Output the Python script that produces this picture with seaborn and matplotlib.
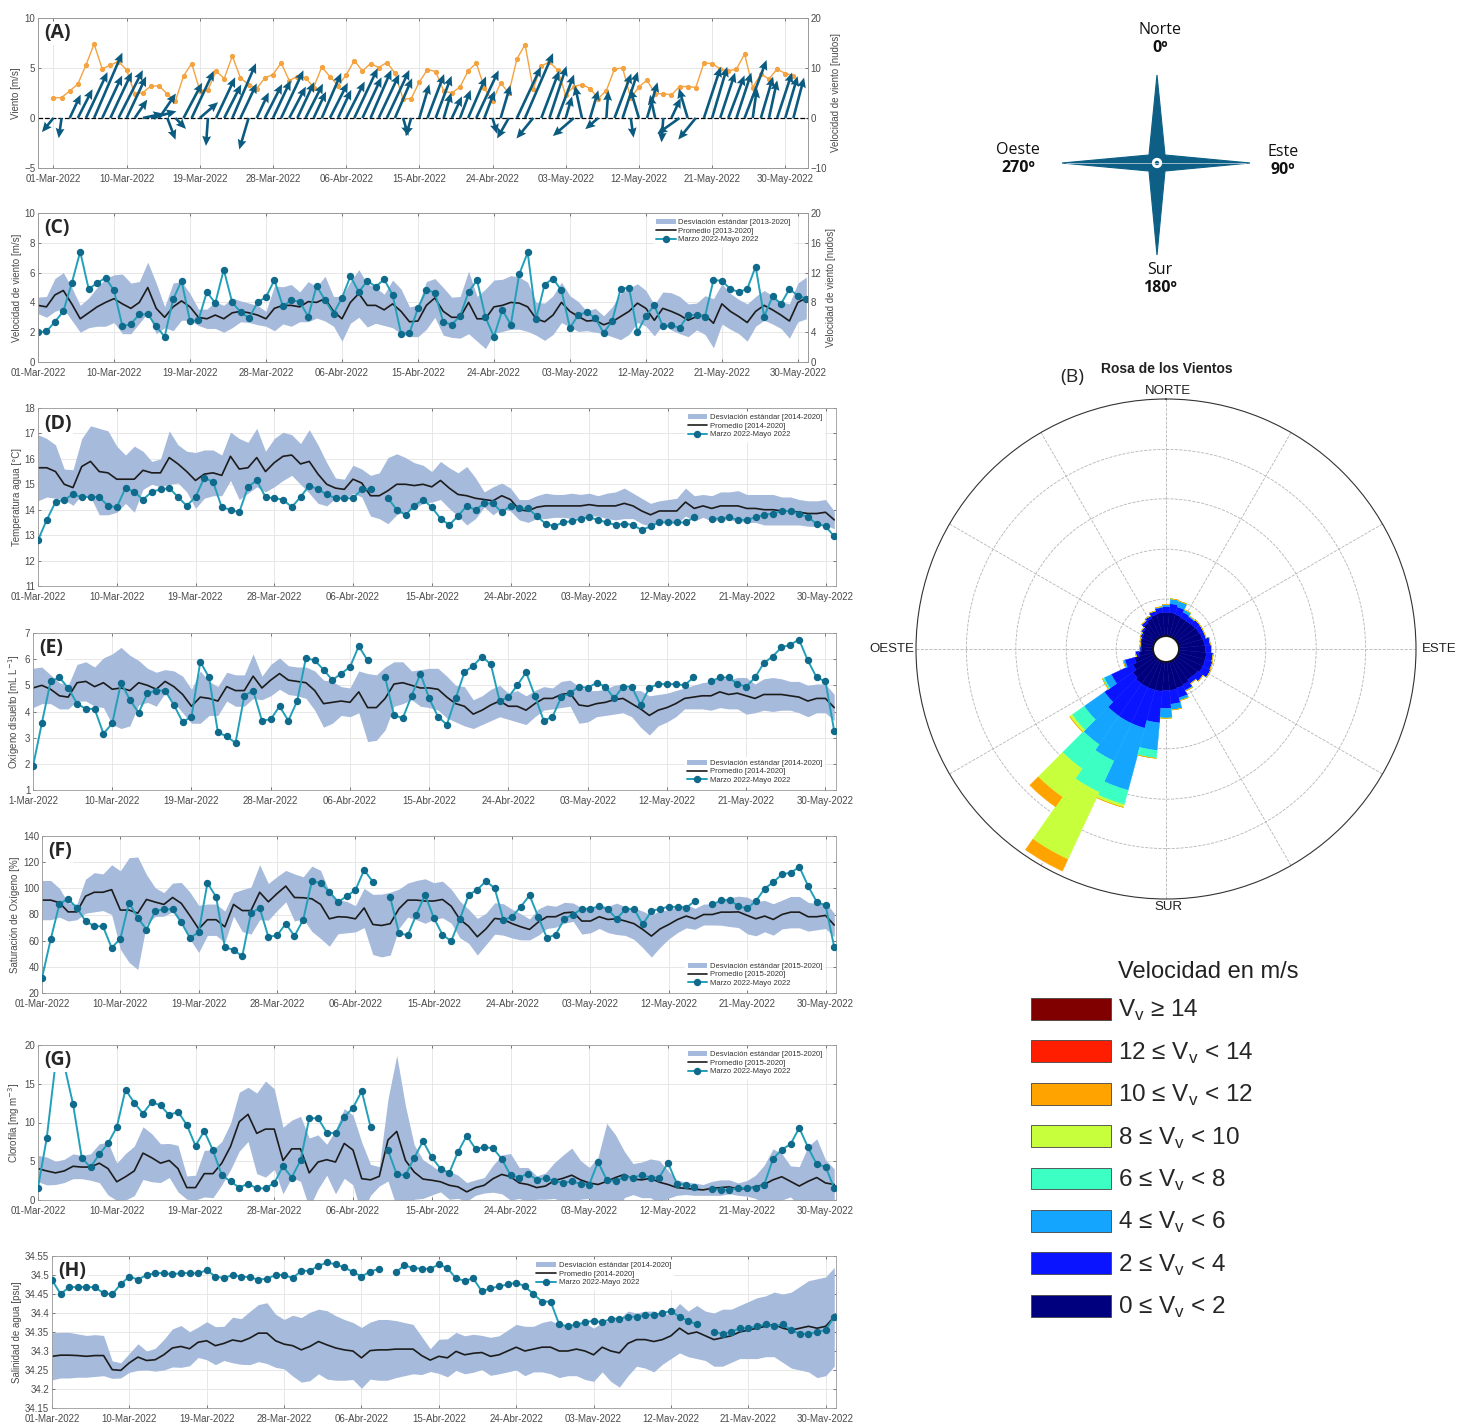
import numpy as np
import pandas as pd
import matplotlib
matplotlib.use("Agg")
import matplotlib.pyplot as plt
import matplotlib.dates as mdates
from matplotlib.patches import Patch, Polygon, Circle
from matplotlib.lines import Line2D
import seaborn as sns

nan = np.nan

# --- DATA ---
DATES = pd.date_range("2022-03-01", "2022-05-31", freq="D")
TICK_DATES = pd.date_range("2022-03-01", "2022-05-30", freq="9D")
TICK_LABELS = ["01-Mar-2022", "10-Mar-2022", "19-Mar-2022", "28-Mar-2022", "06-Abr-2022",
               "15-Abr-2022", "24-Abr-2022", "03-May-2022", "12-May-2022", "21-May-2022",
               "30-May-2022"]

# wind speed (m/s), used in (A) and (C)
WIND_SPEED = [2.0, 2.05, 2.7, 3.4, 5.3, 7.4, 4.9, 5.3, 5.65, 4.8,
              2.4, 2.55, 3.2, 3.2, 2.4, 1.7, 4.2, 5.45, 2.75, 2.8,
              4.7, 3.95, 6.2, 4.0, 3.35, 2.95, 4.0, 4.35, 5.5, 3.75,
              4.15, 4.05, 3.05, 5.1, 4.15, 3.25, 4.3, 5.75, 4.7, 5.45,
              5.05, 5.55, 4.5, 1.9, 1.95, 3.6, 4.85, 4.65, 2.7, 2.5,
              3.1, 4.7, 5.5, 3.0, 1.7, 3.5, 2.5, 5.9, 7.35, 2.9,
              5.2, 5.6, 4.8, 2.3, 3.15, 3.35, 2.95, 1.95, 2.75, 4.9,
              5.0, 2.0, 3.1, 3.8, 2.4, 2.45, 2.3, 3.15, 3.15, 3.05,
              5.5, 5.45, 4.9, 4.7, 4.9, 6.4, 3.05, 4.4, 3.9, 4.9,
              4.45, 4.25]
# direction the wind blows toward (deg from north), panel (A)
WIND_DIR = [225, 190, 30, 32, 30, 28, 30, 30, 32, 30,
            40, 80, 78, 40, 155, 130, 33, 30, 55, 185,
            30, 32, 28, 30, 200, 30, 32, 30, 30, 33,
            30, 32, 30, 28, 32, 30, 32, 30, 30, 28,
            30, 30, 28, 160, 200, 20, 25, 25, 20, 30,
            25, 28, 30, 25, 160, 20, 215, 30, 28, 225,
            25, 22, 25, 20, 235, 345, 20, 235, 5, 25,
            22, 170, 340, 20, 345, 185, 30, 240, 340, 225,
            22, 20, 22, 25, 22, 25, 10, 20, 15, 22,
            20, 18]

C_MEAN = [3.8, 3.7, 4.5, 4.8, 3.9, 2.9, 3.3, 3.7, 4.0, 4.25,
          3.9, 3.6, 4.0, 5.0, 3.6, 3.0, 3.7, 4.1, 3.7, 3.0,
          2.9, 3.15, 2.9, 3.3, 3.4, 3.3, 3.15, 2.9, 3.6, 3.8,
          3.8, 3.7, 4.05, 4.0, 4.25, 3.4, 2.9, 4.0, 4.6, 3.8,
          3.8, 3.5, 3.9, 3.4, 2.7, 2.75, 3.8, 4.3, 3.4, 3.0,
          3.0, 4.0, 2.9, 2.9, 3.7, 3.8, 4.0, 3.95, 3.7, 2.9,
          2.7, 3.15, 4.0, 3.4, 3.05, 2.75, 2.8, 2.5, 2.7, 3.05,
          3.4, 3.95, 3.6, 2.8, 3.6, 3.4, 3.15, 2.8, 3.05, 3.15,
          2.6, 3.9, 3.4, 3.05, 2.65, 3.4, 3.8, 3.5, 3.15, 2.75,
          4.0, 4.3]
C_SD = [0.55, 0.7, 1.1, 1.2, 1.1, 0.9, 1.0, 1.3, 1.6, 1.6,
        2.0, 1.7, 1.4, 1.7, 1.7, 0.7, 1.6, 1.3, 0.9, 0.55,
        0.65, 0.9, 0.9, 1.0, 0.7, 0.65, 0.65, 0.5, 1.5, 1.25,
        1.4, 1.0, 1.35, 1.05, 1.5, 1.0, 1.5, 1.4, 1.6, 1.45,
        1.2, 1.05, 1.6, 1.5, 1.0, 1.05, 1.6, 1.3, 1.6, 1.35,
        1.4, 2.1, 1.5, 2.0, 1.8, 1.75, 1.8, 1.75, 1.65, 1.1,
        1.25, 1.3, 1.35, 1.05, 1.0, 0.65, 0.8, 0.6, 1.0, 1.55,
        1.55, 1.3, 1.2, 1.05, 1.1, 1.25, 1.25, 1.1, 0.9, 1.3,
        1.65, 1.35, 1.2, 1.15, 1.25, 1.0, 1.0, 0.95, 0.9, 1.15,
        1.3, 1.4]

D_OBS = [12.8, 13.6, 14.3, 14.4, 14.6, 14.5, 14.5, 14.5, 14.15, 14.1,
         14.85, 14.7, 14.4, 14.7, 14.8, 14.85, 14.5, 14.15, 14.5, 15.25,
         15.1, 14.1, 14.0, 13.9, 14.9, 15.15, 14.5, 14.45, 14.4, 14.1,
         14.5, 14.95, 14.8, 14.6, 14.45, 14.45, 14.45, 14.8, 14.8, nan,
         14.45, 14.0, 13.8, 14.15, 14.4, 14.1, 13.65, 13.4, 13.75, 14.15,
         14.0, 14.25, 14.25, 13.9, 14.15, 14.05, 14.05, 13.75, 13.45, 13.35,
         13.5, 13.55, 13.65, 13.7, 13.6, 13.5, 13.4, 13.45, 13.4, 13.2,
         13.35, 13.5, 13.5, 13.5, 13.5, 13.7, nan, 13.65, 13.65, 13.7,
         13.6, 13.6, 13.7, 13.8, 13.85, 13.95, 13.95, 13.85, 13.7, 13.45,
         13.35, 12.95]
D_MEAN = [15.65, 15.65, 15.5, 15.0, 14.87, 15.7, 15.9, 15.5, 15.45, 15.2,
          15.2, 15.2, 15.55, 15.45, 15.45, 16.05, 15.8, 15.5, 15.15, 15.4,
          15.45, 15.35, 16.1, 15.6, 15.65, 16.05, 15.5, 15.85, 16.1, 16.15,
          15.8, 15.9, 15.4, 15.0, 14.85, 14.8, 15.2, 15.05, 14.55, 14.55,
          14.75, 15.0, 15.0, 14.95, 15.0, 14.9, 15.15, 14.85, 14.6, 14.55,
          14.45, 14.4, 14.35, 14.55, 14.4, 14.0, 13.95, 14.1, 14.15, 14.15,
          14.15, 14.15, 14.15, 14.2, 14.15, 14.15, 14.15, 14.25, 14.15, 13.95,
          13.8, 13.95, 13.95, 13.95, 14.3, 14.05, 14.15, 14.05, 14.15, 14.15,
          14.15, 14.05, 14.05, 14.0, 14.0, 13.95, 13.95, 13.9, 13.85, 13.85,
          13.9, 13.6]
D_SD = [1.3, 1.15, 1.05, 0.6, 0.7, 1.1, 1.4, 1.7, 1.65, 1.3,
        0.95, 1.3, 0.75, 0.45, 0.55, 1.05, 0.75, 0.8, 1.1, 0.95,
        0.9, 0.8, 0.95, 1.2, 1.0, 1.15, 0.8, 0.95, 0.95, 0.8,
        0.8, 1.25, 1.15, 0.85, 0.4, 0.4, 0.55, 0.55, 0.8, 0.9,
        1.3, 1.2, 1.05, 0.9, 0.75, 0.6, 0.75, 0.8, 0.85, 1.15,
        0.8, 0.3, 0.55, 0.5, 0.45, 0.4, 0.45, 0.45, 0.5, 0.45,
        0.45, 0.5, 0.45, 0.45, 0.4, 0.5, 0.55, 0.6, 0.5, 0.5,
        0.45, 0.4, 0.45, 0.5, 0.55, 0.5, 0.45, 0.5, 0.55, 0.55,
        0.6, 0.55, 0.55, 0.6, 0.6, 0.55, 0.55, 0.5, 0.5, 0.5,
        0.5, 0.35]

E_OBS = [1.9, 3.55, 5.15, 5.3, 4.9, 4.3, 4.1, 4.1, 3.15, 3.55,
         5.1, 4.45, 3.95, 4.7, 4.8, 4.8, 4.25, 3.6, 3.8, 5.9,
         5.3, 3.2, 3.05, 2.8, 4.6, 4.8, 3.65, 3.7, 4.2, 3.65,
         4.4, 6.05, 5.95, 5.6, 5.2, 5.45, 5.7, 6.5, 5.95, nan,
         5.3, 3.85, 3.75, 4.6, 5.45, 4.5, 3.8, 3.5, 4.5, 5.5,
         5.75, 6.1, 5.8, 4.4, 4.55, 5.0, 5.5, 4.6, 3.65, 3.8,
         4.55, 4.7, 4.95, 4.9, 5.1, 4.95, 4.5, 4.95, 4.95, 4.25,
         4.9, 5.05, 5.05, 5.05, 5.0, 5.3, nan, 5.15, 5.3, 5.3,
         5.05, 4.95, 5.3, 5.85, 6.1, 6.45, 6.55, 6.75, 5.95, 5.3,
         5.15, 3.25]
E_MEAN = [4.9, 5.0, 4.85, 4.6, 4.55, 5.1, 5.15, 4.95, 5.1, 4.85,
          4.9, 4.8, 5.1, 5.0, 4.85, 5.15, 4.95, 4.65, 4.2, 4.55,
          4.5, 4.4, 4.95, 4.8, 4.8, 5.35, 4.9, 5.2, 5.45, 5.2,
          5.15, 5.1, 4.8, 4.3, 4.35, 4.4, 4.35, 4.75, 4.15, 4.15,
          4.5, 5.05, 5.1, 5.0, 4.9, 4.9, 4.85, 4.55, 4.3, 4.2,
          3.9, 4.05, 4.25, 4.4, 4.2, 4.2, 4.05, 4.3, 4.5, 4.5,
          4.65, 4.7, 4.25, 4.2, 4.3, 4.35, 4.45, 4.5, 4.3, 4.1,
          3.85, 4.05, 4.15, 4.3, 4.5, 4.55, 4.6, 4.6, 4.75, 4.65,
          4.7, 4.6, 4.5, 4.65, 4.65, 4.65, 4.6, 4.55, 4.4, 4.5,
          4.5, 4.15]
E_SD = [0.75, 0.7, 0.55, 0.5, 0.45, 0.7, 0.75, 0.75, 0.95, 1.35,
        1.55, 1.35, 0.85, 0.65, 0.65, 0.45, 0.6, 0.7, 0.65, 1.0,
        0.65, 0.55, 0.55, 0.6, 0.6, 0.85, 0.45, 0.6, 0.6, 0.55,
        0.55, 0.6, 0.75, 0.9, 0.8, 0.55, 0.55, 0.8, 1.3, 1.25,
        1.2, 0.85, 0.8, 0.55, 0.7, 0.75, 0.8, 0.8, 0.7, 0.75,
        0.55, 0.55, 0.6, 0.6, 0.5, 0.6, 0.55, 0.5, 0.45, 0.4,
        0.5, 0.5, 0.7, 0.6, 0.5, 0.5, 0.55, 0.55, 0.5, 0.7,
        0.75, 0.6, 0.55, 0.5, 0.4, 0.45, 0.5, 0.55, 0.6, 0.55,
        0.6, 0.7, 0.55, 0.6, 0.65, 0.6, 0.55, 0.6, 0.6, 0.55,
        0.55, 0.5]

F_OBS = [31.6, 61, 88, 92, 85, 75, 71, 71, 54.5, 61.5,
         89, 77.5, 68.5, 82.6, 84, 84, 74, 62, 66.5, 104,
         93.5, 55, 53, 48, 81, 85, 63, 64, 73, 63.5,
         76, 105.5, 104, 97.5, 89.5, 94, 98.7, 114, 105, nan,
         93, 66, 64, 80, 95, 77.5, 64.5, 59.6, 76.5, 94.8,
         99, 105.5, 100, 75.7, 78.3, 86, 94.6, 78.3, 62, 64.7,
         76.7, 80, 84.4, 84.4, 86.4, 83.9, 76.7, 83.9, 84.4, 72.4,
         82.6, 84.4, 86, 85.7, 85.2, 90.3, nan, 87.7, 90.8, 91,
         86.4, 84.6, 90.3, 99.7, 104.8, 110.7, 112, 116.3, 101.7, 89.5,
         87, 55]
F_MEAN = [91, 91, 89, 82, 82, 94, 97, 97, 99, 83.4,
          83.4, 81, 91.5, 89.5, 87.7, 93, 88.5, 79, 69, 76,
          76, 70.6, 87.7, 83, 83, 97, 89.7, 96, 101.7, 93,
          92.8, 92, 87.7, 76.7, 78.3, 78, 76.7, 85, 72.4, 71.6,
          73, 84.4, 91, 91, 90.3, 90.3, 91.5, 86.4, 76.2, 71,
          63, 69, 77, 76.2, 73, 70.6, 68.6, 74.2, 78.3, 78.3,
          81.3, 81.8, 75, 75, 78.3, 76.2, 76.7, 75, 73, 68.6,
          63.5, 69, 72.4, 76.2, 78.8, 76.7, 80, 80, 81.8, 81.8,
          82, 79.3, 76.7, 78.8, 76.2, 80, 81.8, 81.8, 78.3, 78.3,
          79.3, 71.9]
F_SD = [15, 15, 11, 7, 6, 13, 15, 14, 19, 30,
        40, 43, 19, 11, 9, 11, 16, 18, 18, 12,
        12, 12, 9, 16, 18, 21, 14, 13, 12, 18,
        16, 25, 26, 21, 13, 12, 10, 15, 23, 24,
        24, 15, 13, 15, 17, 14, 14, 13, 14, 13,
        14, 12, 12, 12, 11, 10, 8, 10, 9, 8,
        8, 7, 10, 9, 9, 10, 12, 11, 12, 14,
        16, 14, 11, 10, 9, 8, 8, 8, 10, 11,
        12, 14, 13, 12, 12, 11, 12, 12, 11, 10,
        10, 9]

G_OBS = [1.6, 8.0, 17.6, 17.4, 12.4, 5.45, 4.2, 5.9, 7.3, 9.4,
         14.25, 12.55, 11.15, 12.65, 12.2, 10.95, 11.4, 9.7, 7.0, 8.9,
         6.4, 3.2, 2.4, 1.6, 2.1, 1.5, 1.5, 2.2, 4.35, 2.9,
         5.1, 10.55, 10.55, 8.7, 8.6, 10.7, 11.9, 14.05, 9.45, nan,
         6.4, 3.3, 3.2, 5.45, 7.6, 5.5, 4.05, 3.5, 6.2, 8.3,
         6.6, 6.8, 6.7, 5.3, 3.2, 2.9, 3.4, 2.6, 2.8, 2.5,
         2.2, 2.4, 2.1, 2.0, 4.9, 2.6, 2.4, 3.0, 2.9, 3.2,
         2.9, 2.9, 4.8, 2.1, 2.0, 1.7, nan, 1.4, 1.3, 1.3,
         1.5, 1.6, 1.5, 2.0, 5.3, 6.5, 7.2, 9.3, 6.8, 4.6,
         4.3, 1.5]
G_MEAN = [4.05, 3.75, 3.5, 3.75, 4.35, 4.25, 4.25, 4.75, 4.05, 2.35,
          3.0, 3.75, 6.05, 5.45, 4.75, 5.1, 4.05, 1.6, 1.6, 3.4,
          3.4, 4.75, 6.9, 10.1, 11.05, 8.6, 9.15, 9.15, 5.1, 6.6,
          6.6, 3.5, 4.9, 5.2, 4.9, 7.3, 6.45, 2.75, 2.6, 3.05,
          7.75, 8.85, 5.1, 3.6, 2.7, 2.55, 2.35, 1.9, 1.7, 1.05,
          1.6, 1.9, 2.75, 3.3, 3.0, 2.2, 2.0, 1.6, 1.8, 2.5,
          2.8, 3.2, 2.6, 2.2, 2.0, 2.4, 2.9, 3.3, 2.7, 2.6,
          2.8, 2.3, 2.0, 1.6, 1.5, 1.4, 1.3, 1.5, 1.6, 1.7,
          1.4, 1.5, 1.7, 2.0, 2.6, 3.0, 2.4, 1.8, 2.4, 2.9,
          2.2, 2.0]
G_SD = [1.7, 1.8, 1.5, 1.5, 1.6, 1.5, 1.7, 2.5, 3.4, 2.4,
        3.0, 3.2, 3.4, 3.1, 2.5, 2.2, 3.0, 1.5, 1.6, 3.0,
        3.1, 2.8, 3.0, 3.8, 3.5, 5.2, 6.2, 5.2, 4.3, 3.7,
        4.2, 4.5, 3.5, 2.0, 4.1, 4.5, 4.5, 4.7, 2.0, 1.25,
        5.3, 9.8, 7.0, 3.5, 2.5, 1.9, 1.3, 1.8, 1.5, 1.2,
        1.0, 1.0, 1.75, 2.5, 3.0, 2.0, 2.2, 1.5, 1.7, 2.3,
        3.0, 3.5, 2.5, 2.0, 3.5, 7.5, 5.5, 3.0, 2.0, 2.3,
        2.5, 2.8, 1.8, 1.0, 0.8, 0.8, 0.7, 0.9, 1.0, 0.9,
        0.8, 1.0, 1.5, 2.5, 4.0, 3.0, 2.0, 2.5, 4.5, 5.0,
        3.0, 2.0]

H_OBS = [34.487, 34.45, 34.468, 34.468, 34.468, 34.468, 34.452, 34.449, 34.476, 34.496,
         34.488, 34.5, 34.505, 34.505, 34.502, 34.505, 34.505, 34.504, 34.513, 34.496,
         34.492, 34.5, 34.496, 34.494, 34.488, 34.49, 34.5, 34.5, 34.492, 34.511,
         34.511, 34.524, 34.533, 34.528, 34.52, 34.508, 34.496, 34.509, 34.516, nan,
         34.507, 34.526, 34.518, 34.517, 34.516, 34.528, 34.518, 34.491, 34.485, 34.491,
         34.457, 34.465, 34.47, 34.475, 34.48, 34.47, 34.45, 34.43, 34.43, 34.37,
         34.365, 34.37, 34.375, 34.38, 34.375, 34.385, 34.385, 34.39, 34.39, 34.395,
         34.395, 34.4, 34.405, 34.39, 34.38, 34.37, nan, 34.35, 34.345, 34.35,
         34.36, 34.36, 34.365, 34.37, 34.365, 34.37, 34.355, 34.345, 34.345, 34.35,
         34.355, 34.39]
H_MEAN = [34.286, 34.289, 34.289, 34.288, 34.286, 34.288, 34.288, 34.251, 34.249, 34.269,
          34.284, 34.275, 34.277, 34.29, 34.308, 34.312, 34.306, 34.323, 34.327, 34.314,
          34.32, 34.329, 34.325, 34.334, 34.347, 34.347, 34.327, 34.318, 34.314, 34.303,
          34.312, 34.325, 34.316, 34.308, 34.303, 34.3, 34.282, 34.301, 34.303, 34.303,
          34.305, 34.305, 34.305, 34.288, 34.276, 34.286, 34.282, 34.299, 34.29, 34.294,
          34.296, 34.286, 34.29, 34.3, 34.31, 34.3, 34.305, 34.31, 34.31, 34.3,
          34.3, 34.305, 34.3, 34.29, 34.31, 34.3, 34.295, 34.32, 34.33, 34.33,
          34.325, 34.33, 34.34, 34.36, 34.345, 34.35, 34.34, 34.33, 34.335, 34.34,
          34.35, 34.355, 34.36, 34.365, 34.37, 34.36, 34.355, 34.36, 34.365, 34.36,
          34.365, 34.39]
H_SD = [0.062, 0.06, 0.06, 0.057, 0.055, 0.055, 0.053, 0.023, 0.02, 0.025,
        0.035, 0.025, 0.03, 0.04, 0.05, 0.055, 0.045, 0.04, 0.05, 0.05,
        0.045, 0.06, 0.06, 0.07, 0.075, 0.08, 0.07, 0.065, 0.08, 0.085,
        0.09, 0.085, 0.09, 0.085, 0.08, 0.075, 0.08, 0.075, 0.08, 0.08,
        0.075, 0.07, 0.065, 0.05, 0.03, 0.045, 0.05, 0.05, 0.05, 0.05,
        0.045, 0.05, 0.05, 0.055, 0.06, 0.065, 0.06, 0.065, 0.07, 0.07,
        0.065, 0.07, 0.075, 0.07, 0.065, 0.08, 0.09, 0.085, 0.07, 0.075,
        0.08, 0.065, 0.06, 0.065, 0.06, 0.07, 0.065, 0.07, 0.075, 0.07,
        0.07, 0.075, 0.08, 0.08, 0.085, 0.09, 0.1, 0.11, 0.12, 0.13,
        0.13, 0.13]

# wind rose: sector centres (deg, from) and frequency (%) per speed class
ROSE_DIRS = [0, 10, 20, 30, 40, 50, 60, 70, 80, 90, 100, 110,
             120, 130, 140, 150, 160, 170, 180, 190, 200, 210, 220, 230,
             240, 250, 260, 270, 280, 290, 300, 310, 320, 330, 340, 350]
ROSE_0_2 = [2.4, 2.4, 2.3, 2.2, 2.2, 2.3, 2.4, 2.5, 2.6, 2.7, 2.8, 2.8,
            2.8, 2.6, 2.5, 2.7, 2.8, 2.9, 2.9, 3.0, 3.0, 3.0, 3.0, 2.8,
            2.4, 2.0, 1.5, 1.2, 1.2, 1.3, 1.4, 1.6, 1.9, 2.1, 2.3, 2.4]
ROSE_2_4 = [0.6, 0.9, 0.8, 0.6, 0.5, 0.6, 0.5, 0.4, 0.6, 0.6, 0.7, 0.8,
            0.9, 0.7, 0.5, 0.6, 1.0, 1.4, 1.8, 3.2, 4.0, 4.0, 4.0, 3.5,
            2.4, 1.0, 0.3, 0.15, 0.15, 0.15, 0.2, 0.2, 0.3, 0.3, 0.4, 0.5]
ROSE_4_6 = [0.2, 0.5, 0.6, 0.3, 0.1, 0.0, 0.0, 0.0, 0.0, 0.0, 0.0, 0.0,
            0.0, 0.0, 0.0, 0.1, 0.3, 0.6, 1.0, 2.8, 6.5, 4.2, 3.5, 2.5,
            0.8, 0.2, 0.0, 0.0, 0.0, 0.0, 0.0, 0.0, 0.0, 0.0, 0.0, 0.1]
ROSE_6_8 = [0, 0, 0, 0, 0, 0, 0, 0, 0, 0, 0, 0,
            0, 0, 0, 0, 0, 0, 0, 0.8, 1.5, 3.5, 3.0, 1.5,
            0.2, 0, 0, 0, 0, 0, 0, 0, 0, 0, 0, 0]
ROSE_8_10 = [0, 0, 0, 0, 0, 0, 0, 0, 0, 0, 0, 0,
             0, 0, 0, 0, 0, 0, 0, 0, 0.3, 7.5, 3.5, 0.3,
             0, 0, 0, 0, 0, 0, 0, 0, 0, 0, 0, 0]
ROSE_10_12 = [0, 0, 0, 0, 0, 0, 0, 0, 0, 0, 0, 0,
              0, 0, 0, 0, 0, 0, 0, 0, 0, 1.3, 1.2, 0,
              0, 0, 0, 0, 0, 0, 0, 0, 0, 0, 0, 0]
SPEED_LABELS = ["V$_{\\mathregular{v}}$ ≥ 14", "12 ≤ V$_{\\mathregular{v}}$ < 14",
                "10 ≤ V$_{\\mathregular{v}}$ < 12", "8 ≤ V$_{\\mathregular{v}}$ < 10",
                "6 ≤ V$_{\\mathregular{v}}$ < 8", "4 ≤ V$_{\\mathregular{v}}$ < 6",
                "2 ≤ V$_{\\mathregular{v}}$ < 4", "0 ≤ V$_{\\mathregular{v}}$ < 2"]
SPEED_COLORS = ["#800000", "#ff1e00", "#ffa300", "#c8ff3c",
                "#3cffc3", "#14a6ff", "#0a14ff", "#00007f"]

# --- STYLE ---
sns.set_theme(style="ticks")
plt.rcParams["font.family"] = ["Liberation Sans", "DejaVu Sans"]
BAND = "#a6badb"
OBS_LINE = "#22a0b9"
OBS_MARK = "#0f6a8b"
ARROW = "#0b5a80"
GRID = "#e3e3e3"
TXT = "#4a4a4a"
FS = 7

W, H = 1459, 1422
fig = plt.figure(figsize=(W / 100, H / 100), dpi=100)


def rect(l, t, r, b):
    return [l / W, 1 - b / H, (r - l) / W, (b - t) / H]


def day(d):
    return DATES[0] + pd.Timedelta(days=d)


def style_axis(ax, xlim=(0, 91.2), first_label=None, right=True):
    ax.set_xlim(day(xlim[0]), day(xlim[1]))
    labels = list(TICK_LABELS)
    if first_label:
        labels[0] = first_label
    ax.set_xticks(TICK_DATES)
    ax.set_xticklabels(labels)
    ax.set_xlabel("")
    ax.grid(True, color=GRID, lw=0.6)
    ax.set_axisbelow(True)
    ax.tick_params(labelsize=FS, colors=TXT, direction="in", length=2.5, pad=2,
                   top=True, right=right, width=0.5)
    ax.tick_params(axis="x", pad=4.5)
    for s in ax.spines.values():
        s.set_color("#9a9a9a")
        s.set_linewidth(0.6)


def right_axis(ax, ylim, yticks):
    ax2 = ax.twinx()
    ax2.set_ylim(*ylim)
    ax2.set_yticks(yticks)
    ax2.tick_params(labelsize=FS, colors=TXT, direction="in", length=2.5, pad=2, width=0.5)
    ax2.set_ylabel("Velocidad de viento [nudos]", fontsize=FS, color=TXT, labelpad=3)
    ax2.grid(False)
    for s in ax2.spines.values():
        s.set_color("#9a9a9a")
        s.set_linewidth(0.6)
    return ax2


def tag(ax, text):
    ax.text(0.008, 0.965, text, transform=ax.transAxes, ha="left", va="top",
            fontsize=14, fontweight="bold", family=["Open Sans", "DejaVu Sans"], zorder=10,
            bbox=dict(facecolor="white", edgecolor="none", pad=1.0))


def ts_panel(box, label, obs, mean, sd, ylim, yticks, ylabel, period, loc, anchor,
             first_label=None, yticklabels=None, right=True):
    ax = fig.add_axes(rect(*box))
    lo = np.asarray(mean) - np.asarray(sd)
    hi = np.asarray(mean) + np.asarray(sd)
    ax.fill_between(DATES, lo, hi, color=BAND, lw=0, zorder=1)
    sns.lineplot(x=DATES, y=mean, ax=ax, color="#1c1c1c", lw=1.2, legend=False, zorder=2)
    ax.plot(DATES, obs, color=OBS_LINE, lw=1.4, marker="o", ms=4.3,
            mfc=OBS_MARK, mec=OBS_MARK, zorder=3)
    ax.set_ylim(*ylim)
    ax.set_yticks(yticks)
    if yticklabels:
        ax.set_yticklabels(yticklabels)
    ax.set_ylabel(ylabel, fontsize=FS, color=TXT, labelpad=2)
    style_axis(ax, first_label=first_label, right=right)
    handles = [Patch(facecolor=BAND, edgecolor="none"),
               Line2D([], [], color="#1c1c1c", lw=1.2),
               Line2D([], [], color=OBS_LINE, lw=1.4, marker="o", ms=4.3,
                      mfc=OBS_MARK, mec=OBS_MARK)]
    names = [f"Desviación estándar [{period}]", f"Promedio [{period}]",
             "Marzo 2022-Mayo 2022"]
    leg = ax.legend(handles, names, loc=loc, bbox_to_anchor=anchor, fontsize=5.5,
                    handlelength=2.6, handletextpad=0.3, labelspacing=0.15,
                    borderpad=0.3, frameon=True, framealpha=1, edgecolor="white")
    for t in leg.get_texts():
        t.set_color("#333333")
    tag(ax, label)
    return ax


# --- (A) wind vectors ---
axA = fig.add_axes(rect(38, 18, 808, 168))
xnum = mdates.date2num(DATES)
spd = np.asarray(WIND_SPEED)
rad = np.deg2rad(WIND_DIR)
sns.lineplot(x=DATES, y=WIND_SPEED, ax=axA, color="#f4a340", lw=1.0, marker="o",
             markersize=3, markeredgecolor="#f4a340", legend=False, zorder=2)
axA.axhline(0, color="black", ls="--", lw=0.9, zorder=1)
axA.quiver(xnum, np.zeros_like(xnum), spd * np.sin(rad), spd * np.cos(rad),
           angles="xy", scale_units="xy", scale=1, color=ARROW, width=0.0034,
           headwidth=3.4, headlength=3.8, headaxislength=3.4, zorder=3)
axA.set_ylim(-5, 10)
axA.set_yticks([-5, 0, 5, 10])
axA.set_ylabel("Viento [m/s]", fontsize=FS, color=TXT, labelpad=2)
style_axis(axA, xlim=(-1.9, 92.8), right=False)
right_axis(axA, (-10, 20), [-10, 0, 10, 20])
tag(axA, "(A)")

# --- (C) to (H) time series ---
axC = ts_panel((38, 213, 808, 362), "(C)", WIND_SPEED, C_MEAN, C_SD, (0, 10),
               [0, 2, 4, 6, 8, 10], "Velocidad de viento [m/s]", "2013-2020",
               "upper right", (0.985, 1.0), right=False)
right_axis(axC, (0, 20), [0, 4, 8, 12, 16, 20])

ts_panel((38, 408, 836, 586), "(D)", D_OBS, D_MEAN, D_SD, (11, 18),
         [11, 12, 13, 14, 15, 16, 17, 18], "Temperatura agua [°C]", "2014-2020",
         "upper right", (0.99, 1.0))
ts_panel((33, 633, 836, 790), "(E)", E_OBS, E_MEAN, E_SD, (1, 7),
         [1, 2, 3, 4, 5, 6, 7], "Oxígeno disuelto [mL L$^{-1}$]", "2014-2020",
         "lower right", (0.99, 0.0), first_label="1-Mar-2022")
ts_panel((42, 836, 836, 993), "(F)", F_OBS, F_MEAN, F_SD, (20, 140),
         [20, 40, 60, 80, 100, 120, 140], "Saturación de Oxígeno [%]", "2015-2020",
         "lower right", (0.99, 0.0))
ts_panel((38, 1045, 836, 1200), "(G)", G_OBS, G_MEAN, G_SD, (0, 20),
         [0, 5, 10, 15, 20], "Clorofila [mg m$^{-3}$]", "2015-2020",
         "upper right", (0.99, 1.0))
ts_panel((52, 1256, 836, 1408), "(H)", H_OBS, H_MEAN, H_SD, (34.15, 34.55),
         [34.15, 34.2, 34.25, 34.3, 34.35, 34.4, 34.45, 34.5, 34.55],
         "Salinidad de agua [psu]", "2014-2020", "upper left", (0.61, 1.0),
         yticklabels=["34.15", "34.2", "34.25", "34.3", "34.35", "34.4", "34.45",
                      "34.5", "34.55"])

# --- (B) wind rose ---
axR = fig.add_axes(rect(916, 399, 1416, 899), projection="polar")
axR.set_theta_zero_location("N")
axR.set_theta_direction(-1)
theta = np.deg2rad(ROSE_DIRS)
bottom = np.zeros(len(ROSE_DIRS))
classes = [ROSE_0_2, ROSE_2_4, ROSE_4_6, ROSE_6_8, ROSE_8_10, ROSE_10_12]
for freq, color in zip(classes, SPEED_COLORS[::-1]):
    axR.bar(theta, freq, width=np.deg2rad(10), bottom=bottom, color=color,
            edgecolor=color, lw=0.3, zorder=2)
    bottom = bottom + np.asarray(freq)
axR.set_rorigin(-1.3)
axR.set_ylim(0, 24)
axR.set_yticks([3.75, 8.8, 13.9, 18.9])
axR.set_yticklabels([])
axR.set_xticks(np.deg2rad([0, 30, 60, 90, 120, 150, 180, 210, 240, 270, 300, 330]))
axR.set_xticklabels([])
axR.grid(True, ls="--", color="#b5b5b5", lw=0.6)
axR.set_axisbelow(True)
axR.spines["polar"].set_color("#333333")
axR.spines["polar"].set_linewidth(0.8)
hub = np.linspace(0, 2 * np.pi, 120)
axR.plot(hub, np.zeros_like(hub), color="black", lw=0.8, zorder=3)

# --- overlay: compass, labels, legend ---
ov = fig.add_axes([0, 0, 1, 1])
ov.set_xlim(0, W)
ov.set_ylim(H, 0)
ov.axis("off")
ov.patch.set_alpha(0)

cx, cy = 1157, 163
star = Polygon([(cx, 75), (cx + 8, cy - 8), (1250, cy), (cx + 8, cy + 8), (cx, 255),
                (cx - 8, cy + 8), (1062, cy), (cx - 8, cy - 8)], closed=True,
               facecolor="#0d5f86", edgecolor="#0d5f86", lw=0.8)
ov.add_patch(star)
ov.plot([1066, 1246], [cy, cy], color="white", lw=0.4)
ov.add_patch(Circle((cx, cy), 6, facecolor="white", edgecolor="#0d5f86", lw=1.2))
ov.add_patch(Circle((cx, cy), 2.2, facecolor="#0d5f86", edgecolor="none"))

cfont = ["Open Sans", "DejaVu Sans"]
for x, y, name, deg in [(1160, 30, "Norte", "0º"), (1018, 150, "Oeste", "270º"),
                        (1283, 152, "Este", "90º"), (1160, 270, "Sur", "180º")]:
    ov.text(x, y, name, ha="center", va="center", fontsize=11.5, family=cfont, color="#111111")
    ov.text(x, y + 18, deg, ha="center", va="center", fontsize=11.5, fontweight="bold",
            family=cfont, color="#111111")

ov.text(1167, 369, "Rosa de los Vientos", ha="center", va="center", fontsize=10,
        fontweight="bold", color="#222222")
ov.text(1072, 377, "(B)", ha="center", va="center", fontsize=14, family=cfont)
ov.text(1168, 391, "NORTE", ha="center", va="center", fontsize=9.5, color="#222222")
ov.text(1168, 907, "SUR", ha="center", va="center", fontsize=9.5, color="#222222")
ov.text(892, 649, "OESTE", ha="center", va="center", fontsize=9.5, color="#222222")
ov.text(1439, 649, "ESTE", ha="center", va="center", fontsize=9.5, color="#222222")

ov.text(1118, 972, "Velocidad en m/s", ha="left", va="center", fontsize=17, color="#222222")
speed_handles = [Patch(facecolor=c, edgecolor="#444444", lw=0.6) for c in SPEED_COLORS]
fig.legend(speed_handles, SPEED_LABELS, loc="upper left",
           bbox_to_anchor=(1031 / W, 1 - 998 / H), fontsize=17.5, frameon=False,
           handlelength=3.3, handleheight=1.0, labelspacing=0.7, handletextpad=0.3,
           borderaxespad=0, borderpad=0)

fig.savefig("out.png", dpi=100)
